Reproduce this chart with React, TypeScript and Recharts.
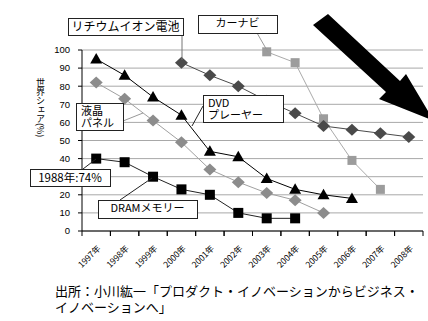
import React from "react";
import { LineChart, Line, XAxis, YAxis, CartesianGrid } from "recharts";

const years = ["1997年", "1998年", "1999年", "2000年", "2001年", "2002年", "2003年", "2004年", "2005年", "2006年", "2007年", "2008年"];
const lithium = [null, null, null, 93, 86, 80, 72, 65, 58, 56, 54, 52];
const dvd = [95, 86, 74, 64, 44, 41, 29, 23, 20, 18, null, null];
const lcd = [82, 73, 61, 49, 34, 27, 21, 17, 10, null, null, null];
const dram = [40, 38, 30, 23, 20, 10, 7, 7, null, null, null, null];
const carnavi = [null, null, null, null, null, null, 99, 93, 62, 39, 23, null];
const yTicks = [0, 10, 20, 30, 40, 50, 60, 70, 80, 90, 100];

const data = years.map((year, i) => ({
  year,
  lithium: lithium[i],
  dvd: dvd[i],
  lcd: lcd[i],
  dram: dram[i],
  carnavi: carnavi[i],
}));

const W = 428;
const H = 321;
const AXIS_W = 82;
const RIGHT = 5;
const BAND = (W - AXIS_W - RIGHT) / years.length;
const JP = "'Noto Sans CJK JP', 'Noto Sans', sans-serif";

const diamond = (fill: string) => (p: any) => {
  if (p.cx == null || p.cy == null || p.value == null) return <g key={p.index} />;
  const { cx, cy } = p;
  return <polygon key={p.index} points={`${cx},${cy - 6} ${cx + 6.5},${cy} ${cx},${cy + 6} ${cx - 6.5},${cy}`} fill={fill} />;
};

const square = (fill: string, s: number) => (p: any) => {
  if (p.cx == null || p.cy == null || p.value == null) return <g key={p.index} />;
  return <rect key={p.index} x={p.cx - s / 2} y={p.cy - s / 2} width={s} height={s} fill={fill} />;
};

const triangle = (p: any) => {
  if (p.cx == null || p.cy == null || p.value == null) return <g key={p.index} />;
  const { cx, cy } = p;
  return <polygon key={p.index} points={`${cx},${cy - 6} ${cx + 6},${cy + 4.5} ${cx - 6},${cy + 4.5}`} fill="#000" />;
};

function XTick({ x, y, payload }: any) {
  const tx = x + 5;
  const ty = y + 18;
  return (
    <g>
      <line x1={x - BAND / 2} x2={x - BAND / 2} y1={y} y2={y + 5} stroke="#000" />
      <line x1={x + BAND / 2} x2={x + BAND / 2} y1={y} y2={y + 5} stroke="#000" />
      <text
        x={tx}
        y={ty}
        textAnchor="end"
        transform={`rotate(-45, ${tx}, ${ty})`}
        fontSize={8.5}
        fontFamily={JP}
        fill="#000"
      >
        {payload.value}
      </text>
    </g>
  );
}

function Box({ x, y, w, h, lines, size = 11, center = false }: any) {
  return (
    <g>
      <rect x={x + 0.5} y={y + 0.5} width={w} height={h} fill="#fff" stroke="#222" />
      {lines.map((t: string, i: number) => (
        <text
          key={i}
          x={center ? x + w / 2 : x + 5}
          y={y + size + 1 + i * (size + 1)}
          textAnchor={center ? "middle" : "start"}
          fontSize={size}
          fontFamily={JP}
          fill="#000"
        >
          {t}
        </text>
      ))}
    </g>
  );
}

export default function App() {
  return (
    <div style={{ position: "fixed", left: 0, top: 0, width: W, height: H, background: "#fff" }}>
      <LineChart width={W} height={H} data={data} margin={{ top: 50, right: RIGHT, bottom: 0, left: 0 }}>
        <CartesianGrid vertical={false} stroke="#a8a8a8" />
        <XAxis
          dataKey="year"
          height={90}
          padding={{ left: BAND / 2, right: BAND / 2 }}
          stroke="#000"
          tickSize={0}
          tickMargin={0}
          tick={<XTick />}
          interval={0}
        />
        <YAxis
          width={AXIS_W}
          domain={[0, 100]}
          ticks={yTicks}
          interval={0}
          stroke="#000"
          tickSize={4}
          tickMargin={8}
          tick={{ fontSize: 9.5, fill: "#000", fontFamily: "'Liberation Sans', Arial, sans-serif" }}
        />
        <Line dataKey="lcd" stroke="#a0a0a0" strokeWidth={1} dot={diamond("#8c8c8c")} isAnimationActive={false} />
        <Line dataKey="carnavi" stroke="#aaaaaa" strokeWidth={1} dot={square("#9c9c9c", 9)} isAnimationActive={false} />
        <Line dataKey="lithium" stroke="#4a4a4a" strokeWidth={1} dot={diamond("#4a4a4a")} isAnimationActive={false} />
        <Line dataKey="dram" stroke="#222" strokeWidth={1} dot={square("#000", 10)} isAnimationActive={false} />
        <Line dataKey="dvd" stroke="#000" strokeWidth={1} dot={triangle} isAnimationActive={false} />
      </LineChart>
      <svg width={W} height={H} style={{ position: "absolute", left: 0, top: 0, pointerEvents: "none" }}>
        <polygon points="313,25 328,14 400,81 406,74 434,121 379,99 386,92" fill="#000" />
        <line x1={182} y1={35} x2={182} y2={60} stroke="#777" />
        <Box x={68} y={18} w={115} h={17} lines={["リチウムイオン電池"]} size={12} center />
        <line x1={257} y1={33} x2={268} y2={52} stroke="#999" />
        <Box x={198} y={15} w={79} h={18} lines={["カーナビ"]} size={11} center />
        <line x1={123} y1={121} x2={143} y2={113} stroke="#999" />
        <Box x={76} y={103} w={47} h={27} lines={["液晶", "パネル"]} size={11} />
        <line x1={203} y1={106} x2={192} y2={126} stroke="#222" />
        <Box x={203} y={95} w={80} h={27} lines={["DVD", "プレーヤー"]} size={11} />
        <line x1={83} y1={169} x2={96} y2={159} stroke="#222" />
        <Box x={30} y={169} w={80} h={17} lines={["1988年:74%"]} size={11.5} center />
        <line x1={120} y1={200} x2={152} y2={178} stroke="#222" />
        <Box x={98} y={200} w={99} h={18} lines={["DRAMメモリー"]} size={11} center />
      </svg>
      <div
        style={{
          position: "absolute",
          left: 35,
          top: 78,
          writingMode: "vertical-rl",
          fontSize: 9,
          fontFamily: JP,
          lineHeight: "10px",
          color: "#000",
        }}
      >
        世界シェア(%)
      </div>
      <div
        style={{
          position: "absolute",
          left: 55,
          top: 283,
          fontSize: 13,
          lineHeight: "16px",
          fontFamily: JP,
          color: "#000",
          whiteSpace: "nowrap",
        }}
      >
        出所：小川紘一「プロダクト・イノベーションからビジネス・
        <br />
        イノベーションへ」
      </div>
    </div>
  );
}
